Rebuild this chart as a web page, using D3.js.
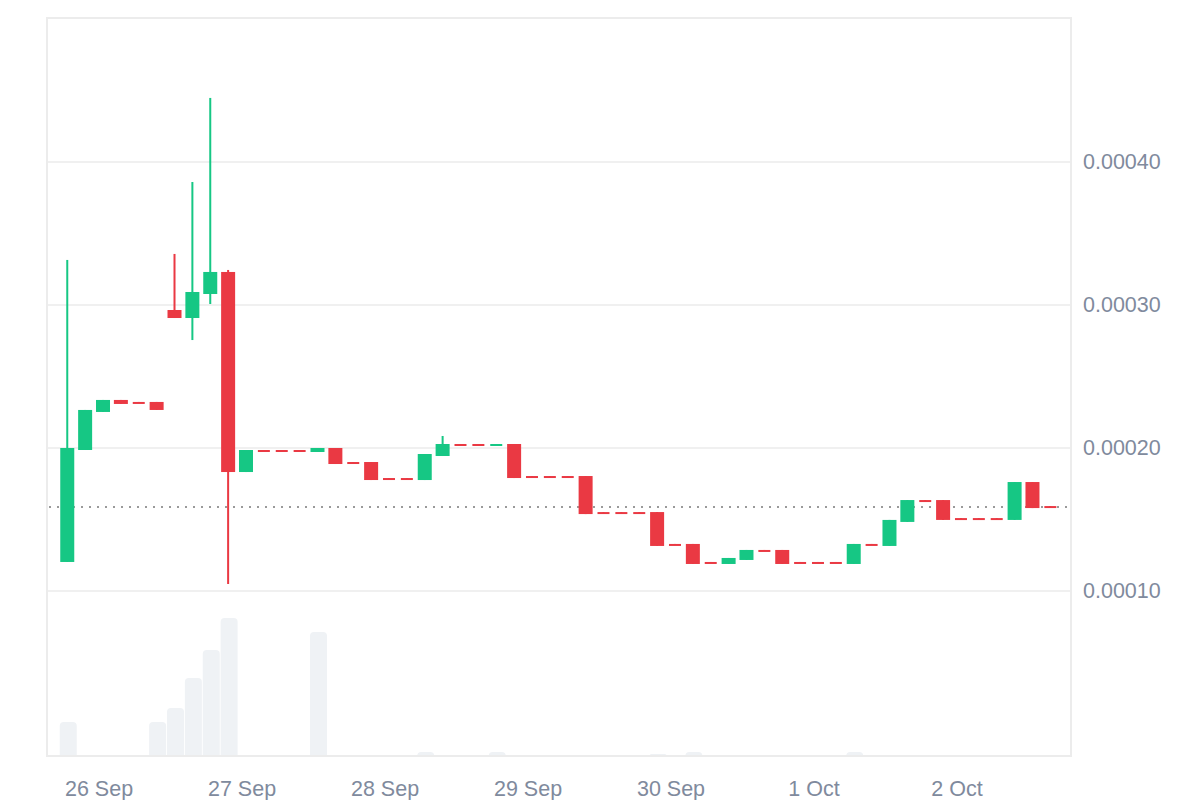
<!DOCTYPE html>
<html>
<head>
<meta charset="utf-8">
<script src="https://cdn.jsdelivr.net/npm/d3@7"></script>
<style>
  html, body { margin: 0; padding: 0; background: #ffffff; }
  svg { display: block; }
  text { font-family: "Liberation Sans", Arial, Helvetica, sans-serif; }
</style>
</head>
<body>
<svg id="chart" width="1200" height="800"></svg>
<script>
// ---------- DATA ----------
const startTime = "2023-09-25T18:45:00Z";   // first 3-hour candle
const intervalHours = 3;

const opens = [
  0.0001203, 0.0001986, 0.0002252, 0.0002336, 0.0002322, 0.0002322, 0.0002965, 0.0002909, 0.0003077, 0.0003231,
  0.0001832, 0.0001986, 0.0001986, 0.0001986, 0.0001972, 0.0002000, 0.0001902, 0.0001902, 0.0001790, 0.0001790,
  0.0001776, 0.0001944, 0.0002028, 0.0002028, 0.0002021, 0.0002028, 0.0001804, 0.0001804, 0.0001804, 0.0001804,
  0.0001552, 0.0001552, 0.0001552, 0.0001552, 0.0001329, 0.0001329, 0.0001203, 0.0001189, 0.0001217, 0.0001287,
  0.0001287, 0.0001203, 0.0001203, 0.0001203, 0.0001189, 0.0001329, 0.0001315, 0.0001483, 0.0001636, 0.0001636,
  0.0001510, 0.0001510, 0.0001510, 0.0001497, 0.0001762, 0.0001594
];
const closes = [
  0.0002000, 0.0002266, 0.0002336, 0.0002308, 0.0002315, 0.0002266, 0.0002909, 0.0003091, 0.0003231, 0.0001832,
  0.0001986, 0.0001979, 0.0001979, 0.0001979, 0.0002000, 0.0001888, 0.0001895, 0.0001776, 0.0001783, 0.0001783,
  0.0001958, 0.0002028, 0.0002021, 0.0002021, 0.0002028, 0.0001790, 0.0001797, 0.0001797, 0.0001797, 0.0001538,
  0.0001545, 0.0001545, 0.0001545, 0.0001315, 0.0001322, 0.0001189, 0.0001196, 0.0001231, 0.0001287, 0.0001280,
  0.0001189, 0.0001196, 0.0001196, 0.0001196, 0.0001329, 0.0001322, 0.0001497, 0.0001636, 0.0001629, 0.0001497,
  0.0001503, 0.0001503, 0.0001503, 0.0001762, 0.0001580, 0.0001587
];
const highs = [
  0.0003315, 0.0002266, 0.0002336, 0.0002336, 0.0002322, 0.0002322, 0.0003357, 0.0003860, 0.0004448, 0.0003245,
  0.0001986, 0.0001986, 0.0001986, 0.0001986, 0.0002000, 0.0002000, 0.0001902, 0.0001902, 0.0001790, 0.0001790,
  0.0001958, 0.0002084, 0.0002028, 0.0002028, 0.0002028, 0.0002028, 0.0001804, 0.0001804, 0.0001804, 0.0001804,
  0.0001552, 0.0001552, 0.0001552, 0.0001552, 0.0001329, 0.0001329, 0.0001203, 0.0001231, 0.0001287, 0.0001287,
  0.0001287, 0.0001203, 0.0001203, 0.0001203, 0.0001329, 0.0001329, 0.0001497, 0.0001636, 0.0001636, 0.0001636,
  0.0001510, 0.0001510, 0.0001510, 0.0001762, 0.0001762, 0.0001594
];
const lows = [
  0.0001203, 0.0001986, 0.0002252, 0.0002308, 0.0002315, 0.0002266, 0.0002909, 0.0002755, 0.0003007, 0.0001049,
  0.0001832, 0.0001979, 0.0001979, 0.0001979, 0.0001972, 0.0001888, 0.0001895, 0.0001776, 0.0001783, 0.0001783,
  0.0001776, 0.0001944, 0.0002021, 0.0002021, 0.0002021, 0.0001790, 0.0001797, 0.0001797, 0.0001797, 0.0001538,
  0.0001545, 0.0001545, 0.0001545, 0.0001315, 0.0001322, 0.0001189, 0.0001196, 0.0001189, 0.0001217, 0.0001280,
  0.0001189, 0.0001196, 0.0001196, 0.0001196, 0.0001189, 0.0001322, 0.0001315, 0.0001483, 0.0001629, 0.0001497,
  0.0001503, 0.0001503, 0.0001503, 0.0001497, 0.0001580, 0.0001587
];
// relative traded volume per candle
const volumes = [
  24.6, 0, 0, 0, 0, 24.6, 34.8, 56.5, 76.8, 100,
  0, 0, 0, 0, 89.9, 0, 0, 0, 0, 0,
  2.9, 0, 0, 0, 2.9, 0, 0, 0, 0, 0,
  0, 0, 0, 1.4, 0, 2.9, 0, 0, 0, 0,
  0, 0, 0, 0, 2.9, 0, 0, 0, 0, 0,
  0, 0, 0, 0, 0, 0
];

const xTickDates = ["2023-09-26", "2023-09-27", "2023-09-28", "2023-09-29", "2023-09-30", "2023-10-01", "2023-10-02"];
const xTickLabels = ["26 Sep", "27 Sep", "28 Sep", "29 Sep", "30 Sep", "1 Oct", "2 Oct"];
const yTicks = [0.0001, 0.0002, 0.0003, 0.0004];
const xDomain = ["2023-09-25T15:21:00Z", "2023-10-02T19:13:00Z"];
const yDomain = [0.0001, 0.0005];

// ---------- LAYOUT / STYLE ----------
const L = 47, R = 1071, T = 18, B = 756, PRICE_BOTTOM = 591, VOL_TOP = 618;
const UP = "#16c784", DOWN = "#ea3943";
const GRID = "#f0f0f0", BORDER = "#ececec", TEXT = "#808a9d", VOLC = "#eff2f5";

const svg = d3.select("#chart");

const t0 = new Date(startTime).getTime();
const candles = opens.map((o, i) => ({
  t: new Date(t0 + i * intervalHours * 3600 * 1000),
  o, h: highs[i], l: lows[i], c: closes[i], v: volumes[i]
}));

const x = d3.scaleUtc().domain(xDomain.map(d => new Date(d))).range([L, R]);
const y = d3.scaleLinear().domain(yDomain).range([PRICE_BOTTOM, T + 1]);
const yv = d3.scaleLinear().domain([0, d3.max(volumes)]).range([B, VOL_TOP]);

// grid lines
svg.append("g").selectAll("line").data(yTicks).join("line")
  .attr("x1", L).attr("x2", R)
  .attr("y1", d => y(d)).attr("y2", d => y(d))
  .attr("stroke", GRID).attr("stroke-width", 2);

// volume bars (rounded tops)
const VW = 17;
svg.append("g").selectAll("path").data(candles.filter(d => d.v > 0)).join("path")
  .attr("fill", VOLC)
  .attr("d", d => {
    const cx = x(d.t) + 1, x0 = cx - VW / 2, x1 = cx + VW / 2;
    const top = yv(d.v), h = B - top, r = Math.min(4, h);
    return `M${x0},${B} L${x0},${top + r} Q${x0},${top} ${x0 + r},${top} L${x1 - r},${top} Q${x1},${top} ${x1},${top + r} L${x1},${B} Z`;
  });

// border
const border = svg.append("g").attr("stroke", BORDER).attr("stroke-width", 2).attr("fill", "none");
border.append("path").attr("d", `M${L},${B} L${L},${T} L${R},${T} L${R},${B + 1}`);
border.append("line").attr("x1", L - 1).attr("x2", R + 1).attr("y1", B).attr("y2", B);

// last price dotted line
const last = closes[closes.length - 1];
svg.append("line")
  .attr("x1", L + 2).attr("x2", R - 4)
  .attr("y1", y(last)).attr("y2", y(last))
  .attr("stroke", "#9a9a9a").attr("stroke-width", 2)
  .attr("stroke-dasharray", "2,6");

// candles
const cg = svg.append("g").selectAll("g").data(candles).join("g")
  .attr("fill", d => d.c >= d.o ? UP : DOWN)
  .attr("stroke", "none");
cg.append("rect")
  .attr("x", d => x(d.t) - 1).attr("width", 2)
  .attr("y", d => y(d.h)).attr("height", d => Math.max(1, y(d.l) - y(d.h)));
cg.append("rect")
  .attr("x", d => {
    const hh = Math.abs(y(d.o) - y(d.c));
    return x(d.t) - (hh <= 2 ? 6 : 7);
  })
  .attr("width", d => Math.abs(y(d.o) - y(d.c)) <= 2 ? 12 : 14)
  .attr("y", d => Math.min(y(d.o), y(d.c)))
  .attr("height", d => Math.max(2, Math.abs(y(d.o) - y(d.c))));

// axes
const xAxis = d3.axisBottom(x)
  .tickValues(xTickDates.map(d => new Date(d + "T00:00:00Z")))
  .tickFormat((d, i) => xTickLabels[i])
  .tickSize(0).tickPadding(25);
const gx = svg.append("g").attr("transform", `translate(0,${B})`).call(xAxis);
gx.select(".domain").remove();
gx.selectAll("text").attr("fill", TEXT).style("font-size", "21.5px")
  .style("font-family", '"Liberation Sans", Arial, sans-serif');

const yAxis = d3.axisRight(y).tickValues(yTicks).tickFormat(d3.format(".5f"))
  .tickSize(0).tickPadding(12);
const gy = svg.append("g").attr("transform", `translate(${R},0)`).call(yAxis);
gy.select(".domain").remove();
gy.selectAll("text").attr("fill", TEXT).style("font-size", "21.5px")
  .style("font-family", '"Liberation Sans", Arial, sans-serif');
</script>
</body>
</html>
